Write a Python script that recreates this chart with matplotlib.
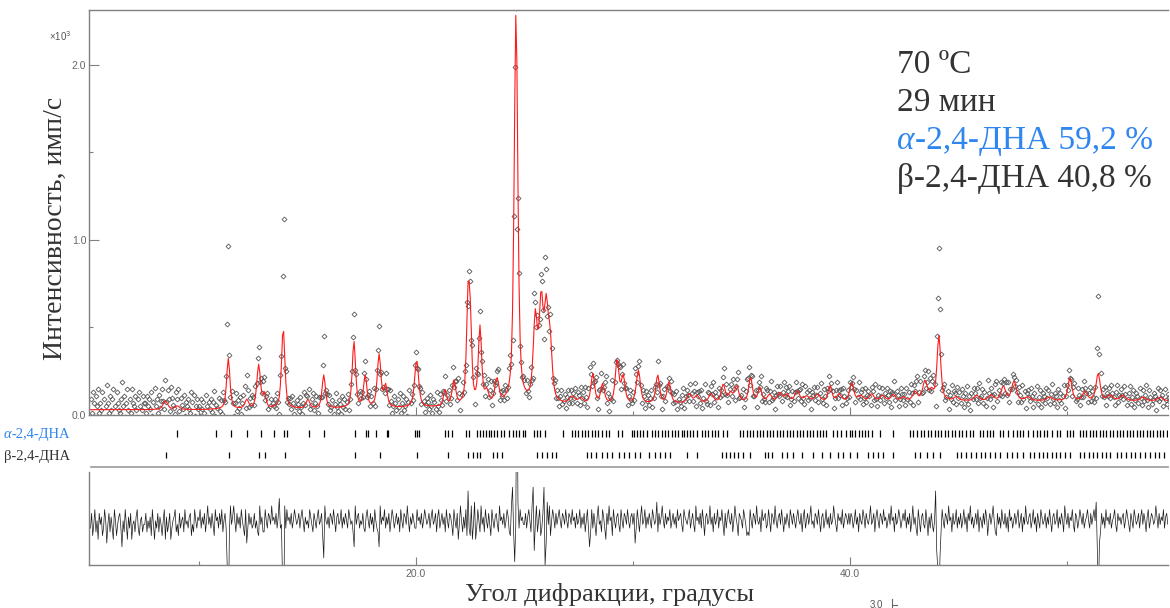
import numpy as np
import matplotlib.pyplot as plt
from matplotlib.lines import Line2D

plt.rcParams['font.family'] = ['Liberation Serif', 'DejaVu Serif']

W, H = 1170, 608


def fx(px):
    return px / W


def fy(py):
    return 1 - py / H


# scan grid, degrees 2theta
scan_start = 5.0
scan_step = 0.05

# background anchors, x10^3 counts
bg_pos = [5, 10, 15, 20, 25, 30, 35, 40, 45, 50, 55]
bg_val = [0.03, 0.03, 0.035, 0.04, 0.05, 0.06, 0.07, 0.075, 0.08, 0.08, 0.08]

# calculated profile: peak position, height above background, fwhm
peak_pos = [8.45, 9.0, 11.35, 12.2, 12.75, 13.02, 13.88, 15.02, 15.75, 17.14,
            17.66, 18.3, 18.6, 20.03, 21.34, 21.75, 22.41, 22.52, 22.95, 23.26,
            23.73, 24.61, 25.5, 25.77, 26.0, 26.18, 27.2, 27.6, 28.15, 28.6,
            29.27, 29.55, 30.25, 31.14, 31.66, 32.6, 32.95, 33.6, 34.16, 34.5,
            34.78, 35.42, 35.85, 36.3, 36.77, 37.1, 37.57, 38.0, 38.5, 39.08,
            39.5, 40.08, 40.5, 41.0, 41.5, 42.0, 42.46, 43.0, 43.46, 43.76,
            44.1, 44.9, 45.84, 46.5, 47.07, 47.56, 48.2, 49.2, 50.14, 50.83,
            51.44, 52.0, 52.58, 53.5, 54.3]
peak_height = [0.05, 0.02, 0.29, 0.05, 0.25, 0.08, 0.46, 0.05, 0.19, 0.38,
               0.18, 0.3, 0.12, 0.27, 0.09, 0.14, 0.65, 0.3, 0.44, 0.07,
               0.14, 2.24, 0.47, 0.54, 0.48, 0.31, 0.04, 0.03, 0.17, 0.11,
               0.25, 0.15, 0.19, 0.16, 0.12, 0.05, 0.04, 0.05, 0.1, 0.05,
               0.09, 0.14, 0.08, 0.04, 0.05, 0.04, 0.06, 0.03, 0.04, 0.09,
               0.04, 0.105, 0.03, 0.04, 0.03, 0.035, 0.02, 0.05, 0.11, 0.05,
               0.37, 0.02, 0.03, 0.03, 0.08, 0.11, 0.02, 0.02, 0.13, 0.05,
               0.155, 0.03, 0.03, 0.02, 0.02]
peak_fwhm = [0.25, 0.25, 0.18, 0.2, 0.2, 0.15, 0.18, 0.2, 0.18, 0.18,
             0.18, 0.2, 0.18, 0.22, 0.18, 0.2, 0.18, 0.14, 0.18, 0.2,
             0.22, 0.2, 0.22, 0.22, 0.22, 0.22, 0.3, 0.3, 0.2, 0.2,
             0.2, 0.2, 0.22, 0.2, 0.2, 0.25, 0.25, 0.25, 0.22, 0.22,
             0.22, 0.2, 0.2, 0.25, 0.25, 0.25, 0.25, 0.3, 0.3, 0.2,
             0.25, 0.22, 0.3, 0.25, 0.3, 0.25, 0.25, 0.25, 0.25, 0.2,
             0.2, 0.25, 0.25, 0.3, 0.25, 0.25, 0.3, 0.3, 0.22, 0.25,
             0.22, 0.3, 0.3, 0.3, 0.3]

# observed - calculated, in units of 20 counts, one row per 2.5 degrees
resid_rows = """
3 -1 5 2 -2 4 1 6 -1 2  0 5 3 -2 1 7 2 -1 4 0  3 6 -2 1 5 2 0 -1 3 8  1 4 -2 2 6 0 3 -1 6 2  1 4 0 -2 3 5 1 0 4 2
2 -1 4 1 3 0 5 -2 2 6  1 3 -1 4 0 2 5 1 -2 6  0 4 2 -1 6 3 1 0 -2 4  2 5 -1 3 1 0 4 -2 2 1  3 0 -1 5 2 4 -2 1 3 0
1 -2 3 0 2 -1 4 1 -3 2  0 3 -1 2 5 -2 1 0 3 -1  2 -2 4 1 -1 3 13 32 4 -3  2 0 -3 1 4 -1 2 0 3 -2  1 3 5 -2 7 3 -1 2 0 3
2 -1 3 1 4 5 -3 2 0 4  4 -2 1 3 -1 0 2 -3 1 0  2 -1 3 0 -5 3 2 17 32 -3  3 -2 1 0 2 -1 3 1 -2 0  2 1 -1 3 0 -2 1 4 0 2
1 3 -2 0 2 4 -1 1 3 0  -2 2 1 -1 5 11 -3 1 2 0  3 -1 0 2 -2 1 4 0 -1 2  1 -2 3 0 2 -1 1 3 -2 0  2 1 4 8 -3 2 0 -1 3 1
2 -1 3 4 0 -2 1 3 -1 2  0 4 -2 1 3 4 8 -3 2 0  1 -2 3 0 2 -1 4 1 -2 0  3 1 -1 2 0 4 -2 1 3 -1  0 2 -3 1 4 0 2 -1 1 3
3 -2 1 0 2 -1 3 1 -2 0  2 1 -1 3 0 -2 2 1 -1 4  0 -2 3 1 -1 2 0 4 -2 1  3 -1 0 2 5 -2 1 3 -1 6  2 -3 1 4 0 3 -2 5 -7 3
5 -3 6 2 -4 6 3 -2 1 4  -3 2 0 4 -2 1 3 -1 2 5  -2 1 3 0 -1 2 4 -3 1 0  2 -1 3 1 -2 0 4 5 -3 -8  4 12 2 -48 -4 3 -2 1 0 2
2 -1 3 0 -2 1 4 -3 -8 9  2 -3 4 1 -2 5 3 -1 -8 13  7 -4 2 -3 5 1 -2 0 3 -1  2 0 -2 1 3 -1 0 2 -2 1  3 -1 0 2 -2 1 0 3 -1 2
1 -2 3 0 2 -1 4 1 -2 3  8 4 -2 3 -1 2 5 0 -3 2  1 4 -2 0 3 6 -1 2 -3 1  0 5 -2 1 3 0 -1 2 4 -2  1 3 -1 0 2 -2 1 3 0 -1
2 -1 7 3 -2 1 4 0 -3 2  1 -2 3 0 2 -1 1 3 -2 0  2 1 -4 4 -1 2 0 -3 1 3  -1 2 0 1 -2 3 1 -1 2 0  3 -2 1 0 -1 2 4 -2 0 1
2 0 -2 3 1 -1 2 4 -3 1  0 2 -1 3 -2 1 5 0 -1 2  1 -3 2 0 4 -1 2 1 -2 3  0 1 -2 2 5 -1 3 0 -2 1  2 -1 4 1 -3 0 2 5 -1 0
1 3 -2 0 2 5 4 5 -2 1  3 -1 0 2 -3 1 2 0 4 -2  1 0 -1 3 2 -2 1 4 -1 0  2 -3 1 3 0 -1 2 -2 1 4  0 2 -1 1 3 -2 0 2 -1 1
3 0 -2 1 2 -1 4 0 -2 3  1 -1 2 0 -3 2 1 3 -1 0  2 -2 1 4 0 -1 3 1 -2 2  0 3 -1 2 1 -3 0 2 4 -1  1 0 2 -2 3 1 -1 0 2 -1
2 -1 0 3 1 -2 2 0 4 -1  1 2 -2 0 3 -1 1 2 0 -3  2 1 -1 4 0 -2 1 3 -1 0  2 -2 1 0 3 1 -1 2 -3 1  0 4 -1 2 1 -2 0 3 1 -1
1 -2 3 0 2 -1 4 1 -3 2  0 3 5 -2 1 4 0 -1 2 3  -2 1 5 0 3 -1 2 4 1 -7  9 14 25 11 4 -2 1 3 -1 0  2 -3 1 0 4 -1 2 1 -2 3
0 2 -1 3 1 -2 2 0 4 -1  1 -3 2 0 3 1 -1 2 -2 4  0 1 3 -1 2 -2 0 5 1 -1  2 0 -3 1 4 5 -1 2 0 3  -2 1 2 -1 3 0 4 -2 1 0
3 1 -1 2 0 -2 3 1 -1 4  0 2 -3 1 2 0 -1 3 1 -2  2 0 4 -1 1 3 -2 0 2 1  -1 3 0 2 -2 1 4 0 -1 2  1 -2 3 0 2 -1 1 4 -3 0
2 -1 3 0 1 -2 2 4 -1 0  3 1 -2 0 2 -1 3 1 0 -2  1 3 -1 2 0 -2 1 -4 8 22  7 4 -1 2 0 3 -2 1 0 2  -1 3 1 0 -2 2 4 -1 1 0
2 0 -1 3 1 -2 0 2 4 -1  1 3 -2 0 2 1 -1 3 0 -2  2 -1 1 4 0 -2 3 1 -1 0  2 1 -3 0 3 -1 2 0 1 -2  3 0 -1 2 1 -2 0 3 1 0
"""
resid_unit = 0.02  # x10^3 counts

# reflection positions, degrees
alpha_refl = [8.97, 10.77, 11.47, 12.2, 12.84, 13.46, 13.92, 14.07, 15.08, 15.77,
              17.19, 17.68, 17.77, 18.14, 18.65, 18.72, 19.95, 20.03, 20.12, 21.34,
              21.49, 21.65, 22.3, 22.43, 22.82, 22.95, 23.07, 23.23, 23.35, 23.47,
              23.59, 23.72, 23.9, 24.06, 24.3, 24.46, 24.61, 24.76, 24.92, 25.04,
              25.44, 25.59, 25.71, 25.94, 26.76, 27.18, 27.33, 27.48, 27.64, 27.79,
              27.94, 28.1, 28.25, 28.4, 28.56, 28.76, 28.91, 29.3, 29.48, 29.94,
              30.05, 30.17, 30.32, 30.47, 30.63, 30.86, 31.01, 31.17, 31.32, 31.47,
              31.63, 31.78, 31.94, 32.09, 32.24, 32.35, 32.47, 32.63, 32.78, 32.94,
              33.17, 33.32, 33.47, 33.63, 33.78, 33.93, 34.16, 34.32, 34.93, 35.09,
              35.24, 35.39, 35.54, 35.7, 35.85, 36.0, 36.16, 36.31, 36.47, 36.62,
              36.77, 36.92, 37.08, 37.23, 37.38, 37.54, 37.69, 37.85, 38.0, 38.15,
              38.31, 38.46, 38.61, 38.77, 38.92, 39.2, 39.4, 39.6, 39.8, 40.0,
              40.1, 40.25, 40.4, 40.55, 40.68, 40.85, 41.0, 41.38, 42.0, 42.77,
              42.93, 43.1, 43.26, 43.42, 43.58, 43.74, 43.9, 44.06, 44.22, 44.38,
              44.54, 44.7, 44.86, 45.02, 45.18, 45.36, 45.53, 45.68, 45.99, 46.13,
              46.3, 46.45, 46.6, 46.9, 47.06, 47.3, 47.5, 47.7, 47.85, 48.0,
              48.2, 48.45, 48.62, 48.78, 48.95, 49.1, 49.3, 49.55, 49.68, 50.0,
              50.14, 50.3, 50.6, 50.74, 50.9, 51.05, 51.2, 51.36, 51.51, 51.67,
              51.82, 51.98, 52.13, 52.29, 52.44, 52.6, 52.75, 52.9, 53.06, 53.21,
              53.37, 53.52, 53.68, 53.83, 53.99, 54.14, 54.3, 54.45, 54.6]
beta_refl = [8.48, 11.37, 12.75, 13.04, 13.96, 17.19, 18.34, 20.03, 21.49, 22.41,
             22.61, 22.8, 22.95, 23.56, 23.75, 23.95, 25.56, 25.79, 26.02, 26.25,
             26.45, 27.87, 28.06, 28.29, 28.56, 28.79, 29.02, 29.37, 29.6, 29.83,
             30.09, 30.32, 30.75, 31.01, 31.24, 31.47, 31.71, 32.47, 32.94, 34.09,
             34.29, 34.47, 34.65, 34.85, 35.06, 35.39, 36.08, 36.24, 36.39, 36.85,
             37.08, 37.36, 37.77, 38.31, 38.7, 39.08, 39.46, 39.69, 40.0, 40.31,
             40.85, 41.08, 41.31, 41.54, 42.0, 43.0, 43.23, 43.53, 43.84, 44.15,
             44.92, 45.14, 45.36, 45.58, 45.8, 46.02, 46.24, 46.46, 46.68, 46.9,
             47.22, 47.45, 47.7, 47.99, 48.3, 48.5, 48.7, 48.9, 49.1, 49.3,
             49.5, 49.7, 49.92, 50.14, 50.6, 50.8, 51.0, 51.2, 51.4, 51.6,
             51.8, 51.98, 52.29, 52.5, 52.72, 52.94, 53.16, 53.38, 53.6, 53.82,
             54.04, 54.26, 54.48, 54.7]

# (italic prefix, rest, colour key)
info_lines = [('', '70 ºC', 'k'), ('', '29 мин', 'k'),
              ('α', '-2,4-ДНА 59,2 %', 'b'), ('', 'β-2,4-ДНА 40,8 %', 'k')]
phase_labels = [('α', '-2,4-ДНА', 'b'), ('', 'β-2,4-ДНА', 'k')]
blue = '#2f86ee'
text_col = '#333333'
spine_col = '#808080'
tick_font = dict(family='Liberation Sans', size=7.5, color='#666666')

# --- profile
resid = np.array(resid_rows.split(), dtype=float)
tt = scan_start + scan_step * np.arange(len(resid))
calc = np.interp(tt, bg_pos, bg_val)
for p, h, w in zip(peak_pos, peak_height, peak_fwhm):
    u = (tt - p) / (w / 2)
    calc = calc + h * (0.6 / (1 + u ** 2) + 0.4 * np.exp(-np.log(2) * u ** 2))
obs = calc + resid * resid_unit
diff = (calc - obs) * 1000

xlim = (4.93, 54.66)

fig = plt.figure(figsize=(W / 100, H / 100), dpi=100)
renderer = fig.canvas.get_renderer()

# main panel
ax = fig.add_axes([fx(89), fy(415), fx(1168) - fx(89), fy(10) - fy(415)])
ax.plot(tt, obs, ls='none', marker='D', ms=2.5, mfc='none', mec='#555555', mew=0.6)
ax.plot(tt, calc, color='#ff1a1a', lw=0.8)
ax.set_xlim(xlim)
ax.set_ylim(0, 2.314)
ax.set_yticks([0, 1, 2])
ax.set_yticks([0.5, 1.5], minor=True)
ax.set_yticklabels(['0.0', '1.0', '2.0'], fontdict=tick_font)
ax.set_xticks([20, 40])
ax.set_xticks([10, 30, 50], minor=True)
ax.set_xticklabels([])
ax.tick_params(which='both', direction='in', color=spine_col, width=0.8, pad=2)
ax.tick_params(which='major', length=6)
ax.tick_params(which='minor', length=3)
ax.tick_params(axis='y', which='major', length=7)
ax.spines['right'].set_visible(False)
for s in ['left', 'top', 'bottom']:
    ax.spines[s].set_color(spine_col)
    ax.spines[s].set_linewidth(1.0)

# reflection tick rows
tax = fig.add_axes([fx(89), fy(467), fx(1168) - fx(89), fy(424) - fy(467)])
tax.vlines(alpha_refl, 0.70, 0.86, color='black', lw=0.9)
tax.vlines(beta_refl, 0.20, 0.36, color='black', lw=0.9)
tax.set_xlim(xlim)
tax.set_ylim(0, 1)
tax.axis('off')
fig.add_artist(Line2D([fx(91), fx(1168)], [fy(467), fy(467)], color='#999999', lw=1.2))

# difference panel
dax = fig.add_axes([fx(89), fy(565), fx(1168) - fx(89), fy(472) - fy(565)])
dax.plot(tt, diff, color='#1a1a1a', lw=0.5)
dax.set_xlim(xlim)
dax.set_ylim(-258, 242)
dax.set_yticks([])
dax.set_xticks([20, 40])
dax.set_xticks([10, 30, 50], minor=True)
dax.set_xticklabels(['20.0', '40.0'], fontdict=tick_font)
dax.tick_params(which='both', direction='in', color=spine_col, width=0.8, pad=3)
dax.tick_params(which='major', length=6)
dax.tick_params(which='minor', length=3)
for s in ['right', 'top']:
    dax.spines[s].set_visible(False)
for s in ['left', 'bottom']:
    dax.spines[s].set_color(spine_col)
    dax.spines[s].set_linewidth(1.0)


def put_line(px, py, italic, rest, col, size):
    colour = blue if col == 'b' else text_col
    x = fx(px)
    if italic:
        t = fig.text(x, fy(py), italic, fontsize=size, color=colour,
                     style='italic', va='baseline')
        x = t.get_window_extent(renderer=renderer).x1 / W
    fig.text(x, fy(py), rest, fontsize=size, color=colour, va='baseline')


# texts
fig.text(fx(49), fy(36), '×10$^3$', fontsize=7, family='Liberation Sans',
         color='#555555', va='center')
fig.text(fx(55), fy(228), 'Интенсивность, имп/с', rotation=90, fontsize=20,
         color=text_col, ha='center', va='center')
fig.text(fx(610), fy(595), 'Угол дифракции, градусы', fontsize=19,
         color=text_col, ha='center', va='center')
put_line(4, 438, *phase_labels[0], 10.5)
put_line(4, 460, *phase_labels[1], 10.5)
for i, (it, rest, col) in enumerate(info_lines):
    put_line(897, 73 + 38 * i, it, rest, col, 24)

# stray tick of a neighbouring panel at the bottom edge
fig.text(fx(870), fy(605), '3.0', fontsize=7, family='Liberation Sans',
         color='#555555', va='center')
fig.add_artist(Line2D([fx(892), fx(892)], [fy(599), fy(608)], color='#666666', lw=0.8))
fig.add_artist(Line2D([fx(892), fx(897)], [fy(605), fy(605)], color='#666666', lw=0.8))

fig.savefig('out.png', dpi=100)
